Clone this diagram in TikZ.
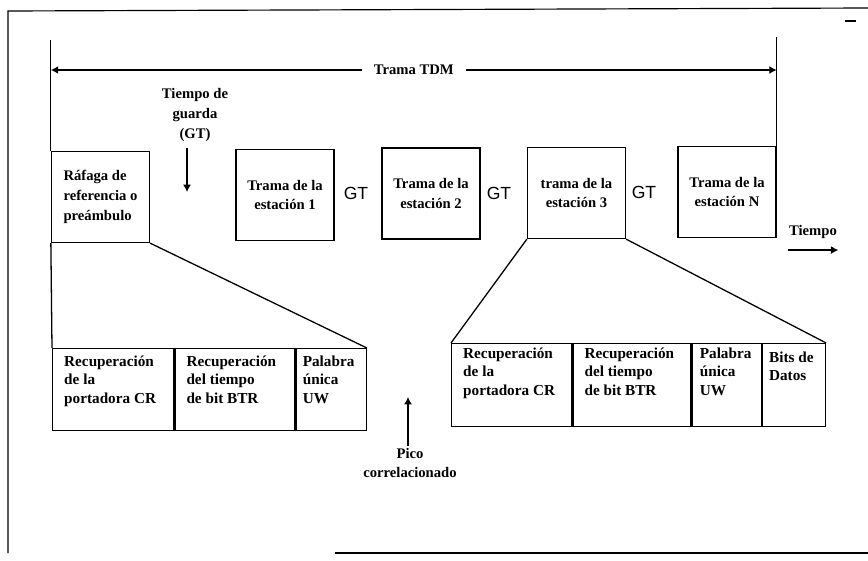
\documentclass[tikz,border=0pt]{standalone}
\usepackage{fontspec}
\setmainfont{Liberation Serif}
\setsansfont{Liberation Sans}
\usetikzlibrary{arrows.meta,positioning}

\begin{document}
\begin{tikzpicture}[x=0.03cm,y=-0.03cm,
    frame/.style={draw,line width=1.1pt,minimum width=2.94cm,minimum height=2.73cm,
      inner sep=0pt,font=\fontsize{12.5}{17}\selectfont\bfseries},
    cell/.style={draw,line width=1.1pt,minimum height=2.46cm,inner sep=0pt},
    celltxt/.style={anchor=north west,inner sep=0pt,align=left,
      font=\fontsize{13}{15.5}\selectfont\bfseries},
    note/.style={align=center,inner sep=1pt,font=\fontsize{12.5}{17}\selectfont\bfseries},
    gtlabel/.style={font=\sffamily\fontsize{15}{17}\selectfont},
    tip/.style={-{Latex[length=2.2mm,width=2.4mm]},line width=1.1pt},
    span/.style={{Latex[length=2.2mm,width=2.4mm]}-{Latex[length=2.2mm,width=2.4mm]},
      line width=1.1pt}
  ]
  \useasboundingbox (0,0) rectangle (868,561);
  % marco exterior
  \draw[line width=1pt] (868,8) -- (8,11) -- (8,553);
  \draw[line width=1pt] (335,553) -- (868,553);
  \draw[line width=1pt] (845,21) -- (856,21);

  % tramas de la TDM
  \node[frame,align=left] (raf) at (100.5,197) {Ráfaga de\\referencia o\\preámbulo};
  \node[frame,align=center] (s1) at (285,195) {Trama de la\\estación 1};
  \node[frame,align=center] (s2) at (431,193.5) {Trama de la\\estación 2};
  \node[frame,align=center] (s3) at (576.5,193) {trama de la\\estación 3};
  \node[frame,align=center] (sN) at (727,192) {Trama de la\\estación N};

  \node[gtlabel] (gt1) at (356,193) {GT};
  \node[gtlabel] (gt2) at (499,193) {GT};
  \node[gtlabel] (gt3) at (644,192) {GT};

  % longitud de la trama
  \coordinate (topL) at (raf.north west |- 0,40);
  \coordinate (topR) at (sN.north east |- 0,37);
  \draw[line width=1.1pt] (topL) -- (raf.north west);
  \draw[line width=1.1pt] (topR) -- (sN.north east);
  \coordinate (tdmL) at (raf.north west |- 0,70);
  \coordinate (tdmR) at (sN.north east |- 0,70);
  \draw[span] (tdmL) -- node[note,fill=white,inner xsep=0.36cm] (tdm) {Trama TDM} (tdmR);

  % tiempo de guarda
  \node[note] (guard) at (195,115) {Tiempo de\\guarda\\(GT)};
  \coordinate (gtEnd) at (187,192);
  \draw[tip,shorten <=4pt] (guard.south -| gtEnd) -- (gtEnd);

  % preámbulo detallado
  \node[cell,minimum width=3.63cm,anchor=north west] (l1) at (52,348) {};
  \node[cell,minimum width=3.60cm,right=0pt of l1] (l2) {};
  \node[cell,minimum width=2.10cm,right=0pt of l2] (l3) {};
  \node[celltxt] (l1t) at ([shift={(12,8)}]l1.north west) {Recuperación\\de la\\portadora CR};
  \node[celltxt] (l2t) at ([shift={(12,8)}]l2.north west) {Recuperación\\del tiempo\\de bit BTR};
  \node[celltxt] (l3t) at ([shift={(7,8)}]l3.north west) {Palabra\\única\\UW};
  \draw[line width=1.1pt] (raf.south west) -- (l1.north west);
  \draw[line width=1.1pt] (raf.south east) -- (l3.north east);

  % trama de estación detallada
  \node[cell,minimum width=3.60cm,minimum height=2.49cm,anchor=north west] (r1) at (451,343) {};
  \node[cell,minimum width=3.54cm,minimum height=2.49cm,right=0pt of r1] (r2) {};
  \node[cell,minimum width=2.07cm,minimum height=2.49cm,right=0pt of r2] (r3) {};
  \node[cell,minimum width=1.89cm,minimum height=2.49cm,right=0pt of r3] (r4) {};
  \node[celltxt] (r1t) at ([shift={(12,5)}]r1.north west) {Recuperación\\de la\\portadora CR};
  \node[celltxt] (r2t) at ([shift={(12,5)}]r2.north west) {Recuperación\\del tiempo\\de bit BTR};
  \node[celltxt] (r3t) at ([shift={(8,5)}]r3.north west) {Palabra\\única\\UW};
  \node[celltxt] (r4t) at ([shift={(7,9)}]r4.north west) {Bits de\\Datos};
  \draw[line width=1.1pt] (s3.south west) -- (r1.north west);
  \draw[line width=1.1pt] (s3.south east) -- (r4.north east);

  % pico de correlación y eje de tiempo
  \node[note] (pico) at (410,463) {Pico\\correlacionado};
  \coordinate (picoTip) at (408,397);
  \draw[tip] (pico.north -| picoTip) -- (picoTip);
  \node[note] (tiempo) at (813,232) {Tiempo};
  \draw[tip] ([shift={(0,10)}]tiempo.south west) -- ([shift={(0,10)}]tiempo.south east);
\end{tikzpicture}
\end{document}
